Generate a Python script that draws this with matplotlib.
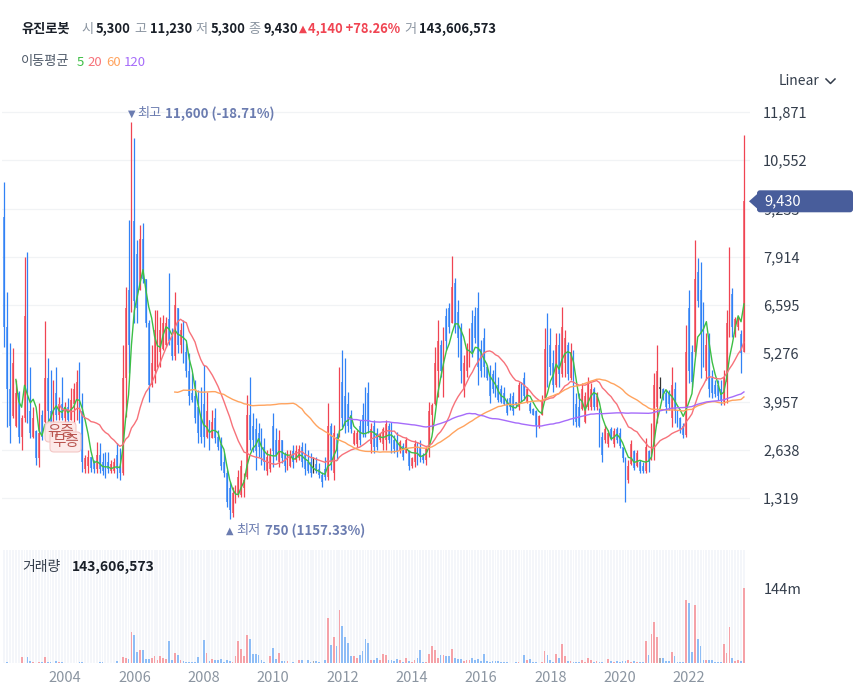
import numpy as np
import pandas as pd
import matplotlib
matplotlib.use("Agg")
import matplotlib.pyplot as plt
from matplotlib.patches import FancyBboxPatch, Polygon
from matplotlib.lines import Line2D
from matplotlib.transforms import IdentityTransform

plt.rcParams['font.family'] = ['Noto Sans CJK KR', 'DejaVu Sans']

# ---- data: monthly candles of 유진로봇, 2002-04 .. 2023-08 ----
stock_name = "유진로봇"
first_month = "2002-04"

opens = [
    9000, 6000, 4300, 3550, 3300, 4200, 3000, 3500, 6300, 3700,
    3000, 3150, 2400, 3600, 3400, 4600, 3700, 3400, 4200, 3600,
    3900, 3500, 3800, 3460, 3900, 4000, 4500, 3700, 2100, 2200,
    2450, 2300, 2100, 2500, 2300, 2300, 2300, 2050, 2050, 2500,
    2200, 2000, 4600, 7000, 6400, 8900, 8000, 7000, 8400, 7300,
    6100, 4400, 4800, 5200, 5300, 5400, 5500, 6200, 5700, 5200,
    6500, 5500, 5900, 5300, 4800, 4200, 4100, 3800, 3600, 3900,
    3000, 3450, 2950, 3500, 3000, 2800, 2300, 2000, 1600, 900,
    1200, 1400, 1400, 1600, 1900, 3600, 3300, 3200, 3100, 2900,
    2700, 2050, 2100, 3300, 2900, 2300, 2900, 2500, 2150, 2200,
    2600, 2350, 2400, 2700, 2500, 2300, 2300, 2200, 2250, 2100,
    1950, 2100, 1900, 3300, 2000, 3000, 3000, 4500, 4100, 3900,
    3600, 2800, 2800, 3300, 3600, 3900, 4200, 2800, 3300, 3100,
    2900, 2800, 2900, 3300, 3200, 2900, 2900, 2600, 2750, 2550,
    2600, 2200, 2300, 2800, 2700, 2500, 2350, 2650, 3600, 3900,
    4800, 5500, 4500, 6300, 6500, 6100, 7200, 6400, 5900, 4300,
    4800, 5100, 6100, 6300, 6500, 5400, 5700, 4900, 4700, 4700,
    4800, 4400, 4300, 4200, 3950, 4050, 4100, 3950, 3800, 4400,
    4600, 3950, 3900, 3750, 3700, 3300, 3600, 4050, 5700, 5500,
    5000, 4400, 5500, 4700, 5000, 5500, 4600, 5300, 3900, 3800,
    3750, 3400, 3800, 3800, 4300, 3800, 3700, 3000, 2900, 2800,
    3200, 2800, 3200, 3100, 2700, 2400, 1800, 2250, 2600, 2200,
    2300, 2200, 2050, 2600, 2400, 2800, 3800, 4300, 4300, 4200,
    4200, 3500, 4300, 3700, 3500, 3300, 3050, 6500, 5300, 5300,
    7500, 7000, 6200, 4800, 5700, 4600, 4400, 4400, 4300, 3950,
    4500, 5900, 6900, 5800, 6000, 5800, 5300,
]
highs = [
    9970, 6960, 5550, 5410, 4550, 4250, 3590, 7920, 8050, 4910,
    3820, 3180, 3910, 3730, 6160, 5140, 4820, 4550, 4910, 4090,
    4640, 3950, 4045, 4320, 4455, 4820, 5050, 4180, 2500, 2630,
    2450, 2360, 2860, 2810, 2540, 2590, 2590, 2360, 2400, 2810,
    2680, 5500, 7100, 8920, 11600, 11150, 8370, 8780, 8830, 7300,
    6190, 5500, 6460, 6460, 6280, 6320, 6280, 7460, 5960, 6960,
    6510, 6100, 6190, 5550, 5280, 4730, 4550, 4270, 4360, 4960,
    4230, 3450, 3730, 3770, 3180, 3000, 2540, 2090, 1770, 1630,
    1680, 2090, 2360, 2000, 4140, 4640, 3640, 3500, 3360, 3220,
    2950, 2630, 2680, 3640, 3220, 3180, 2900, 2590, 2630, 2630,
    2770, 2770, 2770, 2860, 2810, 2630, 2540, 2450, 2450, 2270,
    2040, 2450, 3910, 3360, 3320, 3090, 4910, 5370, 5140, 4230,
    3730, 3180, 3180, 3450, 3910, 4360, 4500, 3360, 3450, 3220,
    3090, 3270, 3450, 3360, 3410, 3040, 3130, 2910, 2810, 3000,
    2630, 2450, 2910, 2860, 2910, 2540, 2720, 3950, 3910, 5460,
    6190, 5640, 6000, 6500, 6640, 7940, 7330, 6730, 6100, 5230,
    5550, 5960, 6460, 6550, 6960, 5640, 5960, 4960, 4960, 4820,
    5050, 4640, 4410, 4360, 4050, 4180, 4230, 3950, 4500, 4500,
    4770, 4360, 3950, 3770, 3730, 3590, 4140, 5960, 6370, 5960,
    5370, 5820, 5820, 6550, 5910, 5590, 5550, 5370, 4180, 4180,
    4450, 4230, 4640, 4450, 4360, 4230, 3770, 3130, 3320, 3180,
    3270, 3220, 3270, 3220, 2720, 2450, 2360, 2910, 2630, 2630,
    2360, 2310, 2950, 2630, 3360, 4730, 5500, 4640, 4320, 4270,
    4270, 4910, 4500, 3730, 3540, 3360, 6050, 7010, 5500, 8370,
    7870, 7780, 6690, 5820, 5820, 4820, 4550, 4550, 4550, 4820,
    6460, 8190, 7050, 6280, 6280, 5910, 11230,
]
lows = [
    5460, 3270, 2810, 3500, 3270, 2810, 2630, 3400, 3360, 2950,
    2950, 2220, 2180, 2900, 3300, 3360, 2950, 3360, 3450, 3450,
    3450, 3360, 3360, 3450, 3360, 3450, 3360, 2040, 1990, 1990,
    2040, 1990, 1990, 1990, 1950, 1860, 1990, 1990, 1990, 1860,
    1810, 1950, 3540, 4730, 6400, 6100, 6100, 7000, 7190, 6000,
    3950, 4360, 4450, 4910, 4910, 5370, 5460, 5500, 5090, 5090,
    5280, 5280, 5000, 4640, 3860, 3950, 3360, 2810, 2810, 2720,
    2950, 2630, 2950, 2810, 2630, 2090, 1900, 1080, 750, 810,
    1170, 1360, 1360, 1360, 1850, 2630, 2590, 2090, 2450, 2220,
    2090, 1950, 2040, 2180, 2360, 2180, 2270, 2040, 2090, 2180,
    2130, 2310, 2360, 2175, 1950, 1990, 1900, 1990, 1990, 1860,
    1630, 1810, 1810, 2090, 1810, 2360, 3000, 3270, 3090, 3130,
    3090, 2770, 2720, 2770, 3000, 3000, 3090, 2540, 2540, 2630,
    2860, 2630, 2630, 2810, 2540, 2540, 2450, 2540, 2360, 2540,
    2090, 2130, 2180, 2220, 2310, 2270, 2220, 2450, 3180, 3850,
    4090, 4640, 4090, 5370, 5820, 6100, 5820, 5180, 4460, 4090,
    4640, 4910, 5180, 5550, 4410, 4640, 4640, 4550, 3910, 4180,
    4090, 3950, 3910, 3860, 3590, 3730, 3590, 3820, 3730, 3950,
    4000, 3910, 3630, 3590, 3000, 3230, 3590, 4050, 4360, 4680,
    4230, 4360, 4360, 4640, 4640, 4550, 4550, 3320, 3270, 3270,
    3730, 3360, 3730, 3730, 3730, 3730, 2720, 2310, 2810, 2720,
    2910, 2720, 2810, 2680, 2310, 1220, 1720, 2220, 2090, 2180,
    1990, 1990, 1990, 2040, 2360, 2360, 3360, 4050, 4000, 3630,
    3730, 3270, 3360, 3270, 3090, 2950, 3000, 4460, 4360, 5200,
    6550, 4590, 4910, 4550, 4090, 4040, 4090, 4000, 3860, 3860,
    3910, 5730, 5730, 5730, 5910, 4730, 5300,
]
closes = [
    6000, 4300, 3300, 5000, 4200, 3000, 3500, 6300, 3700, 3100,
    3500, 2400, 3100, 3000, 4600, 3700, 3100, 4200, 3600, 3900,
    3500, 3800, 3450, 4000, 4300, 4500, 3700, 2300, 2400, 2450,
    2150, 2100, 2500, 2100, 2050, 2100, 2100, 2250, 2300, 2100,
    2000, 4600, 6500, 5500, 8900, 6700, 6500, 8400, 7300, 6100,
    4400, 5000, 5900, 6000, 5900, 6100, 6100, 5600, 5200, 6600,
    5500, 5900, 5300, 4800, 4100, 4000, 3500, 3100, 3000, 3000,
    3700, 2750, 3400, 2950, 2700, 2200, 2000, 1200, 1000, 1450,
    1500, 1900, 2200, 1800, 3600, 2900, 2900, 2600, 2700, 2500,
    2300, 2450, 2500, 2600, 2500, 2900, 2400, 2200, 2450, 2500,
    2300, 2600, 2650, 2300, 2100, 2050, 2000, 2200, 2050, 1950,
    1750, 1900, 3300, 2300, 3100, 2600, 4500, 3500, 3300, 3300,
    3200, 3100, 3100, 2900, 3100, 3200, 3300, 3200, 2700, 2700,
    3050, 3200, 3350, 2900, 2700, 2650, 2600, 2850, 2450, 2900,
    2200, 2400, 2800, 2400, 2450, 2350, 2650, 3700, 3850, 5000,
    5600, 4800, 5700, 5600, 6000, 7100, 6000, 5700, 4800, 5000,
    5400, 5800, 5300, 5700, 4900, 4800, 4900, 4600, 4100, 4300,
    4200, 4000, 3950, 3900, 3650, 3800, 3700, 3850, 4400, 4000,
    4100, 4300, 3700, 3600, 3300, 3550, 4000, 5400, 4700, 4900,
    4400, 5500, 4700, 6000, 5700, 4700, 5300, 3500, 3400, 3300,
    4300, 4100, 4500, 4300, 3800, 4100, 2900, 2500, 3200, 3100,
    2950, 3150, 2900, 2750, 2400, 1900, 2200, 2800, 2150, 2550,
    2050, 2050, 2700, 2300, 3100, 4400, 4800, 4300, 4100, 3800,
    3900, 4400, 3700, 3400, 3200, 3050, 5300, 4800, 4500, 7300,
    6700, 5800, 5400, 5500, 4300, 4200, 4150, 4100, 4000, 4600,
    6100, 7000, 6000, 6200, 6200, 5290, 9430,
]
# volume in millions of shares
volumes = [
    0.5, 1.5, 0.5, 0.5, 0.5, 0.5, 11.5, 0.5, 11.5, 4,
    2, 0.5, 1.3, 1.3, 11.5, 2, 2, 0.5, 4, 2,
    2, 0.5, 0.5, 0.5, 0.5, 0.5, 2, 1.3, 0.5, 0.5,
    0.5, 0.5, 0.5, 1.3, 1.3, 0.5, 0.5, 0.5, 0.5, 4,
    0.5, 11.5, 9, 8.3, 59, 53, 22, 24, 24, 8.3,
    8.3, 10, 14, 5, 13, 10, 8.3, 42, 5, 20,
    15, 5, 3, 2, 1.3, 1.3, 2, 11.5, 0.5, 43.5,
    20, 4, 7.7, 5, 5, 8.3, 2, 5, 3, 2,
    13, 42, 27.5, 13, 53, 46, 18, 18, 15, 5,
    2, 0.5, 13, 29, 8, 20, 3, 3, 4, 0.5,
    2, 0.5, 5, 5, 0.5, 5, 2, 3, 3, 1.3,
    0.5, 5, 87, 34, 49, 32, 101, 70, 49, 39,
    13, 13, 10, 15, 23, 46, 39, 5, 5, 10,
    5, 18, 15, 5, 5, 3, 8, 5, 2, 10,
    3, 2, 6, 10, 24, 2, 2, 17, 32, 24,
    10, 15, 15, 13, 13, 27, 10, 8, 8, 4,
    5, 5, 10, 6, 8, 4, 18, 3, 2, 3,
    3, 3, 1.3, 1.3, 1.3, 0.5, 0.5, 1.3, 1.3, 0.5,
    15, 5, 8, 1.3, 1.3, 0.5, 1.3, 23, 15, 5,
    1.3, 18, 10, 37, 13, 3, 3, 1.3, 1.3, 1.3,
    5, 1.3, 10, 5, 1.3, 3, 1.3, 1.3, 0.5, 8,
    3, 1.3, 3, 1.3, 3, 3, 5, 1.3, 3, 1.3,
    1.3, 1.3, 42, 15, 56, 78, 49, 10, 10, 3,
    3, 22, 13, 1.3, 1.3, 1.3, 120, 114, 22, 111,
    46, 32, 5, 5, 5, 5, 1.3, 1.3, 1.3, 36,
    20, 68, 10, 3, 5, 3, 143.606573,
]

year_labels = [2004, 2006, 2008, 2010, 2012, 2014, 2016, 2018, 2020, 2022]
price_ticks = [1319, 2638, 3957, 5276, 6595, 7914, 9233, 10552, 11871]
ma_windows = [5, 20, 60, 120]
ma_colors = ['#3dbf45', '#f7727a', '#ffa35e', '#a66cfa']

UP, DOWN, FLAT = '#f04452', '#3182f6', '#333333'
VOL_UP, VOL_DOWN = '#f5a2a8', '#8ebdf6'
ANN = '#6b7cb0'

W, H = 858, 691
fig = plt.figure(figsize=(W / 100, H / 100), dpi=100)


def fx(x):
    return x / W


def fy(y):
    return 1 - y / H


def ftext(x, y, s, **kw):
    kw.setdefault('va', 'center')
    fig.text(fx(x), fy(y), s, **kw)


o = np.array(opens, float)
h = np.array(highs, float)
l = np.array(lows, float)
c = np.array(closes, float)
v = np.array(volumes, float)
n = len(c)
x = np.arange(n)
months = pd.period_range(first_month, periods=n, freq='M')

col = np.where(c > o, UP, np.where(c < o, DOWN, FLAT))
vcol = np.where(c > o, VOL_UP, np.where(c < o, VOL_DOWN, '#aaaaaa'))

xlim = (-0.8, 258.1)

# --- price panel ---
ax = fig.add_axes([fx(2), fy(540), fx(750) - fx(2), fy(95) - fy(540)])
ax.set_xlim(*xlim)
ax.set_ylim(171, 12336)
for s in ax.spines.values():
    s.set_visible(False)
ax.set_yticks(price_ticks)
ax.set_yticklabels([f"{t:,}" for t in price_ticks])
ax.yaxis.tick_right()
ax.tick_params(axis='y', length=0, pad=9.4, labelsize=10.5, labelcolor='#333d4b')
ax.set_xticks([])
ax.grid(axis='y', color='#f1f3f5', lw=0.9)
ax.set_axisbelow(True)

ax.vlines(x, l, h, colors=col, lw=0.9, zorder=2)
body = np.maximum(np.abs(c - o), 40)
ax.bar(x, body, bottom=np.minimum(o, c), width=0.62, color=col, alpha=0.72, zorder=2)

cs = pd.Series(c)
for w, mc in zip(ma_windows, ma_colors):
    ax.plot(x, cs.rolling(w).mean(), color=mc, lw=1.0, zorder=3)

# high / low markers
i_max = int(np.argmax(h))
i_min = int(np.argmin(l))
last = c[-1]
ax.annotate("▼", xy=(i_max, h[i_max]), xytext=(0, 8), textcoords='offset pixels',
            ha='center', va='center', color=ANN, fontsize=7, family='DejaVu Sans')
ax.annotate("최고", xy=(i_max, h[i_max]), xytext=(6, 8), textcoords='offset pixels',
            ha='left', va='center', color=ANN, fontsize=9.5)
ax.annotate(f"{int(h[i_max]):,} ({(last - h[i_max]) / h[i_max] * 100:.2f}%)",
            xy=(i_max, h[i_max]), xytext=(34, 8), textcoords='offset pixels',
            ha='left', va='center', color=ANN, fontsize=9.5, fontweight='bold')
ax.annotate("▲", xy=(i_min, l[i_min]), xytext=(0, -12), textcoords='offset pixels',
            ha='center', va='center', color=ANN, fontsize=7, family='DejaVu Sans')
ax.annotate("최저", xy=(i_min, l[i_min]), xytext=(7, -12), textcoords='offset pixels',
            ha='left', va='center', color=ANN, fontsize=9.5)
ax.annotate(f"{int(l[i_min]):,} ({(last - l[i_min]) / l[i_min] * 100:.2f}%)",
            xy=(i_min, l[i_min]), xytext=(35, -12), textcoords='offset pixels',
            ha='left', va='center', color=ANN, fontsize=9.5, fontweight='bold')

# --- volume panel ---
axv = fig.add_axes([fx(2), fy(663), fx(750) - fx(2), fy(550) - fy(663)])
axv.set_xlim(*xlim)
vtop = 216.4
axv.set_ylim(0, vtop)
for s in axv.spines.values():
    s.set_visible(False)
axv.bar(x, np.full(n, vtop), width=0.66, color='#f4f6fa', zorder=0)
axv.bar(x, v, width=0.62, color=vcol, zorder=2)
jan = [i for i, m in enumerate(months) if m.month == 1 and m.year in year_labels]
axv.set_xticks(jan)
axv.set_xticklabels([str(months[i].year) for i in jan])
axv.tick_params(axis='x', length=0, pad=5.5, labelsize=10.5, labelcolor='#8b95a1')
axv.yaxis.tick_right()
axv.set_yticks([v[-1]])
axv.set_yticklabels([f"{round(v[-1])}m"])
axv.tick_params(axis='y', length=0, pad=10, labelsize=10.5, labelcolor='#333d4b')

# --- header ---
prev = c[-2]
chg = last - prev
DARK, GRAY = '#191f28', '#8b95a1'
ftext(21, 29, stock_name, fontsize=9.5, fontweight='bold', color=DARK)
header = [(81.5, "시", f"{int(o[-1]):,}", 96), (134, "고", f"{int(h[-1]):,}", 150),
          (195.5, "저", f"{int(l[-1]):,}", 210.5), (248, "종", f"{int(last):,}", 263)]
for lx, lab, val, vx in header:
    ftext(lx, 29, lab, fontsize=9.5, color=GRAY)
    ftext(vx, 29, val, fontsize=9.3, fontweight='bold', color=DARK)
ftext(299, 29, "▲", fontsize=7.5, color=UP, family='DejaVu Sans')
ftext(308, 29, f"{int(chg):,} +{chg / prev * 100:.2f}%", fontsize=9.3, fontweight='bold', color=UP)
ftext(404, 29, "거", fontsize=9.5, color=GRAY)
ftext(419, 29, f"{int(round(v[-1] * 1e6)):,}", fontsize=9.3, fontweight='bold', color=DARK)

ftext(21, 62, "이동평균", fontsize=9.5, color='#4e5968')
for xx, w, mc in zip([76.5, 87, 106, 124], ma_windows, ma_colors):
    ftext(xx, 62, str(w), fontsize=9.5, color=mc)

ftext(779, 81, "Linear", fontsize=10, color='#333d4b')
fig.add_artist(Line2D([826, 830.5, 835], [H - 79, H - 83.5, H - 79], color='#333d4b',
                      lw=1.1, transform=IdentityTransform()))

ftext(22, 567, "거래량", fontsize=10, color='#333d4b')
ftext(72, 567, f"{int(round(v[-1] * 1e6)):,}", fontsize=10, fontweight='bold', color=DARK)

# --- current price tag ---
fig.canvas.draw()
yc = ax.transData.transform((0, last))[1]
tag = '#485d9b'
fig.add_artist(FancyBboxPatch((757, yc - 11), 96, 22,
                              boxstyle='round,pad=0,rounding_size=3',
                              fc=tag, ec='none', transform=IdentityTransform(), zorder=5))
fig.add_artist(Polygon([[749, yc], [758, yc + 8], [758, yc - 8]], closed=True,
                       fc=tag, ec='none', transform=IdentityTransform(), zorder=5))
fig.text(764, yc, f"{int(last):,}", color='white', fontsize=10.5, va='center',
         transform=IdentityTransform(), zorder=6)

# --- rights issue badges ---
for (bx, by, txt) in [(45, 442, "유증"), (50, 452, "무증")]:
    fig.add_artist(FancyBboxPatch((bx, H - by), 31, 20, boxstyle='round,pad=0,rounding_size=4',
                                  fc='#fde9e8', ec='#f3c3c1', lw=0.8, alpha=0.92,
                                  transform=IdentityTransform(), zorder=6))
    fig.text(bx + 15.5, H - by + 10, txt, color='#b9544f', fontsize=10.5, ha='center',
             va='center', transform=IdentityTransform(), zorder=7)

fig.savefig("out.png", dpi=100)
